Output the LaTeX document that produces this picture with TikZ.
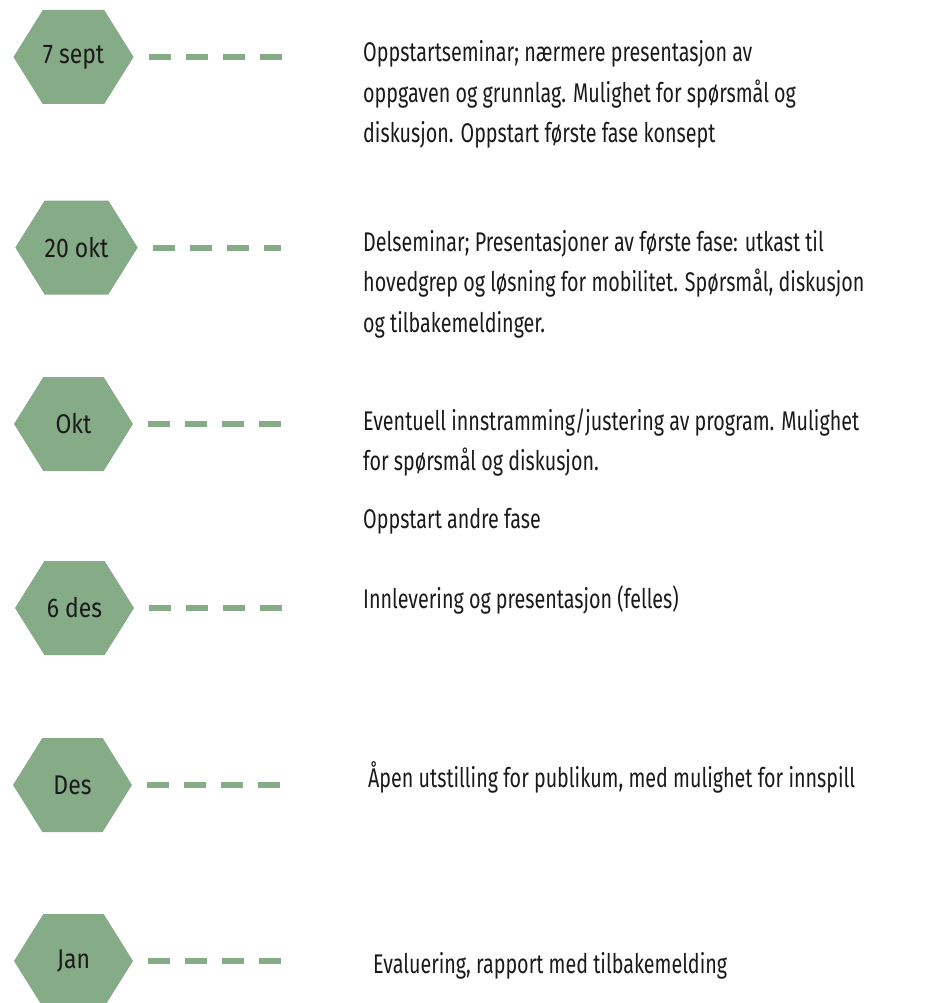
\documentclass[tikz,border=0pt]{standalone}
\usepackage{fontspec}
\setmainfont{Fira Sans}[FakeStretch=0.73]
\newfontfamily\hexfont{Fira Sans}[FakeStretch=0.85]
\usetikzlibrary{shapes.symbols}
\definecolor{sage}{RGB}{134,171,135}
\definecolor{ink}{RGB}{26,26,26}

\begin{document}
\begin{tikzpicture}[x=1pt,y=-1pt,
  hex/.style={signal, signal to=west and east, signal pointer angle=116,
    fill=sage, draw=none, minimum width=119pt, minimum height=94pt, inner sep=0pt,
    text=ink, font=\hexfont\fontsize{27}{30}\selectfont},
  dash line/.style={draw=sage, line width=6pt, dash pattern=on 22pt off 15pt, shorten <=15pt},
  note/.style={anchor=base west, align=left, inner sep=0pt, text=ink,
    font=\fontsize{27}{40.5}\selectfont}]
\clip (0,0) rectangle (926,1003);

% milestones
\node[hex] (h1) at (73.5,57)  {7 sept};
\node[hex] (h2) at (76.5,247.5) {20 okt};
\node[hex] (h3) at (73.5,424) {Okt};
\node[hex] (h4) at (74.5,608) {6 des};
\node[hex] (h5) at (72.5,785) {Des};
\node[hex] (h6) at (73.5,961) {Jan};

% dash ends
\coordinate (e1) at (282,57);
\coordinate (e2) at (281,247.5);
\coordinate (e3) at (282,424);
\coordinate (e4) at (285,608);
\coordinate (e5) at (285,785);
\coordinate (e6) at (282,961);
\foreach \i in {1,...,6}
  \draw[dash line] (h\i.east) -- (e\i);

% descriptions (base = last line)
\node[note] (t1) at (363,143) {Oppstartseminar; nærmere presentasjon av\\oppgaven og grunnlag. Mulighet for spørsmål og\\diskusjon. Oppstart første fase konsept};
\node[note] (t2) at (363,332) {Delseminar; Presentasjoner av første fase: utkast til\\hovedgrep og løsning for mobilitet. Spørsmål, diskusjon\\og tilbakemeldinger.};
\node[note] (t3) at (363,470.5) {Eventuell innstramming/justering av program. Mulighet\\for spørsmål og diskusjon.};
\node[note] (t3b) at (363,528) {Oppstart andre fase};
\node[note] (t4) at (363,608) {Innlevering og presentasjon (felles)};
\node[note] (t5) at (368,787) {Åpen utstilling for publikum, med mulighet for innspill};
\node[note] (t6) at (373,973) {Evaluering, rapport med tilbakemelding};
\end{tikzpicture}
\end{document}
